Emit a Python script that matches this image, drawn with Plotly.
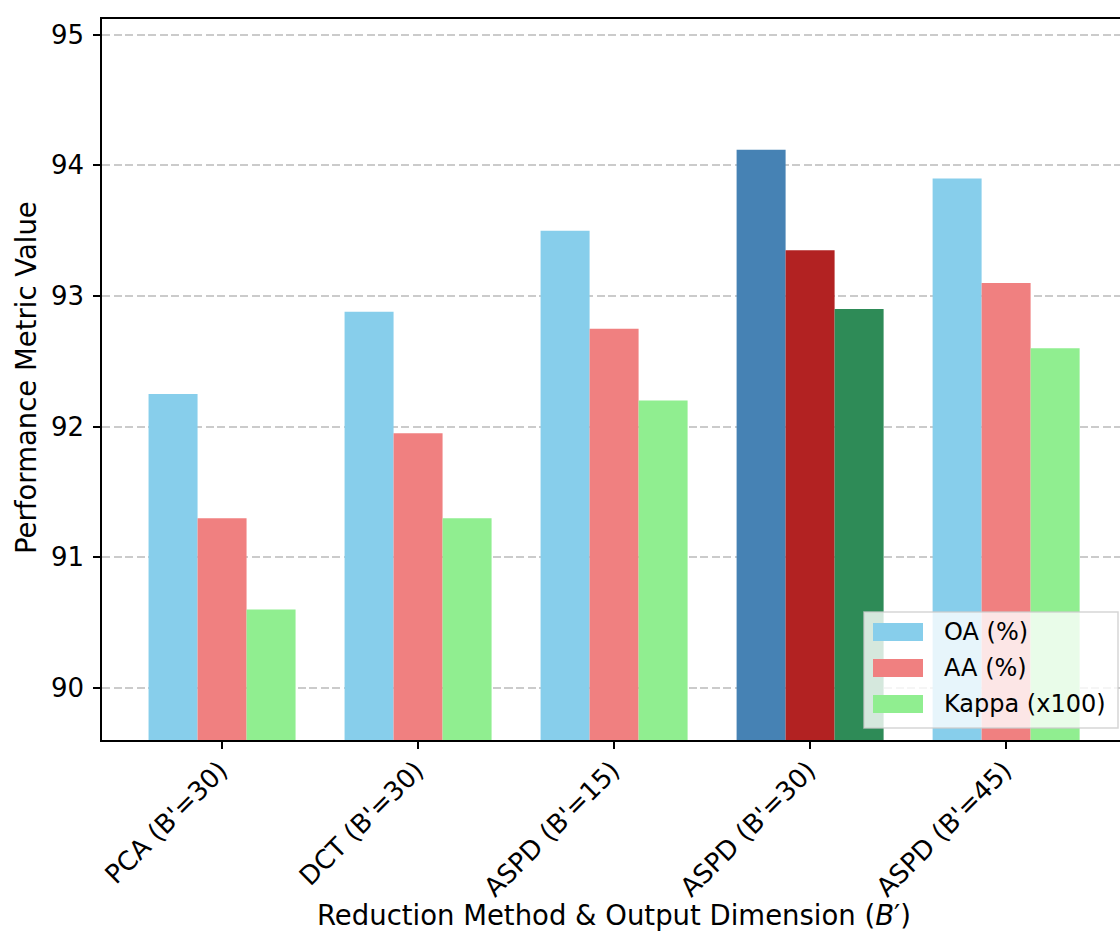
import plotly.graph_objects as go

categories = ["PCA (B'=30)", "DCT (B'=30)", "ASPD (B'=15)", "ASPD (B'=30)", "ASPD (B'=45)"]
oa = [92.25, 92.88, 93.50, 94.12, 93.90]
aa = [91.30, 91.95, 92.75, 93.35, 93.10]
kappa = [90.60, 91.30, 92.20, 92.90, 92.60]
series_names = ["OA (%)", "AA (%)", "Kappa (x100)"]
base_colors = ["#87CEEB", "#F08080", "#90EE90"]
highlight_colors = ["#4682B4", "#B22222", "#2E8B57"]
highlight_index = 3
y_ticks = [90, 91, 92, 93, 94, 95]

W, H = 1120, 932
L, R, T, B = 102, 0, 19, 192
pw, ph = W - L - R, H - T - B

FONT = "DejaVu Sans"
FS = 27.5
TFS = 26
fig = go.Figure()
xs = list(range(len(categories)))
for vals, name, bc, hc in zip([oa, aa, kappa], series_names, base_colors, highlight_colors):
    cols = [hc if i == highlight_index else bc for i in xs]
    fig.add_trace(go.Bar(x=xs, y=vals, name=name, marker=dict(color=cols, line=dict(width=0)),
                         showlegend=False))

fig.update_layout(
    width=W, height=H, margin=dict(l=L, r=R, t=T, b=B),
    barmode="group", bargap=0.25, bargroupgap=0,
    plot_bgcolor="white", paper_bgcolor="white",
    font=dict(family=FONT, size=FS, color="black"),
)
fig.update_xaxes(
    range=[-0.6125, 4.581], tickvals=xs, ticktext=categories, tickangle=-45,
    showline=True, linecolor="black", linewidth=1.5, mirror=True,
    ticks="outside", ticklen=7, tickwidth=1.5, tickcolor="black",
    ticklabelstandoff=-4, ticklabelshift=-2,
    showgrid=False, zeroline=False, tickfont=dict(size=TFS),
)
fig.update_yaxes(
    range=[89.602, 95.12], tickvals=y_ticks,
    showline=True, linecolor="black", linewidth=1.5,
    ticks="outside", ticklen=7, tickwidth=1.5, tickcolor="black",
    ticklabelstandoff=4,
    showgrid=True, gridcolor="rgba(190,190,190,0.8)", griddash="8px,3.5px", gridwidth=2,
    zeroline=False, tickfont=dict(size=TFS),
)

def px_x(p):
    return (p - L) / pw

def px_y(p):
    return (H - B - p) / ph

annotations = [
    dict(text="Reduction Method & Output Dimension (<i>B</i>′)", x=2, xref="x",
         y=px_y(915), yref="paper", xanchor="center", yanchor="middle",
         showarrow=False, font=dict(size=FS)),
    dict(text="Performance Metric Value", x=px_x(26), xref="paper", y=px_y(378), yref="paper",
         xanchor="center", yanchor="middle", textangle=-90, showarrow=False, font=dict(size=FS)),
]
shapes = [
    dict(type="rect", xref="paper", yref="paper", x0=px_x(864), x1=px_x(1118),
         y0=px_y(728), y1=px_y(612), fillcolor="rgba(255,255,255,0.8)",
         line=dict(color="rgba(204,204,204,0.8)", width=1.5), layer="above"),
]
for i, (name, bc) in enumerate(zip(series_names, base_colors)):
    cy = 632 + 36 * i
    shapes.append(dict(type="rect", xref="paper", yref="paper", x0=px_x(873), x1=px_x(923),
                       y0=px_y(cy + 9), y1=px_y(cy - 9), fillcolor=bc, line=dict(width=0),
                       layer="above"))
    annotations.append(dict(text=name, x=px_x(942), xref="paper", y=px_y(cy), yref="paper",
                            xanchor="left", yanchor="middle", showarrow=False,
                            font=dict(size=24)))
fig.update_layout(annotations=annotations, shapes=shapes)

fig.write_html("out.html")
